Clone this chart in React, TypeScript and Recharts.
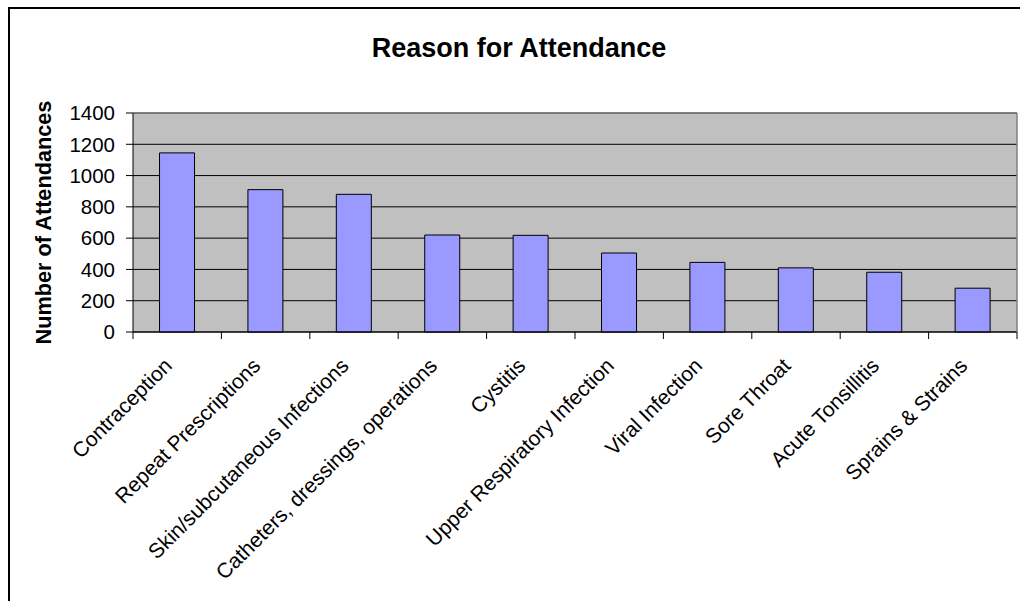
import React from 'react';
import { BarChart, Bar, XAxis, YAxis, CartesianGrid, ReferenceLine } from 'recharts';

const categories = [
  'Contraception',
  'Repeat Prescriptions',
  'Skin/subcutaneous Infections',
  'Catheters, dressings, operations',
  'Cystitis',
  'Upper Respiratory Infection',
  'Viral Infection',
  'Sore Throat',
  'Acute Tonsillitis',
  'Sprains & Strains',
];
const attendances = [1145, 910, 880, 620, 618, 505, 445, 410, 382, 280];
const yTicks = [0, 200, 400, 600, 800, 1000, 1200, 1400];
const chartTitle = 'Reason for Attendance';
const yAxisTitle = 'Number of Attendances';

const data = categories.map((name, i) => ({ name, value: attendances[i] }));

const W = 1020;
const H = 601;
const PLOT_LEFT = 133;
const PLOT_RIGHT = 1017;
const PLOT_TOP = 113;
const PLOT_BOTTOM = 332;
const FONT = '"Liberation Sans", Arial, Helvetica, sans-serif';
const BAND = (PLOT_RIGHT - PLOT_LEFT) / categories.length;

const XTick = (props: any) => {
  const { x, y, payload, index } = props;
  const last = index === categories.length - 1;
  return (
    <g>
      <line x1={x - BAND / 2} y1={y} x2={x - BAND / 2} y2={y + 7} stroke="#000" strokeWidth={1} />
      {last && <line x1={x + BAND / 2} y1={y} x2={x + BAND / 2} y2={y + 7} stroke="#000" strokeWidth={1} />}
      <g transform={`translate(${x - 4},${y + 35})`}>
        <text
          x={0}
          y={0}
          textAnchor="end"
          transform="rotate(-45)"
          fontSize={21}
          fontFamily={FONT}
          fill="#000"
        >
          {payload.value}
        </text>
      </g>
    </g>
  );
};

const YTitle = (props: any) => {
  const vb = props.viewBox || { y: PLOT_TOP, height: PLOT_BOTTOM - PLOT_TOP };
  const cy = vb.y + vb.height / 2;
  const x = 50.5;
  return (
    <text
      x={x}
      y={cy}
      transform={`rotate(-90, ${x}, ${cy})`}
      textAnchor="middle"
      fontSize={21.7}
      fontWeight="bold"
      fontFamily={FONT}
      fill="#000"
    >
      {yAxisTitle}
    </text>
  );
};

export default function App() {
  return (
    <div
      style={{
        position: 'fixed',
        left: 0,
        top: 0,
        width: W,
        height: H,
        overflow: 'hidden',
        background: '#fff',
      }}
    >
      <div
        style={{
          position: 'absolute',
          left: 8,
          top: 7,
          width: 1100,
          height: 700,
          borderLeft: '2px solid #000',
          borderTop: '2px solid #000',
          boxSizing: 'border-box',
        }}
      />
      <svg
        width={W}
        height={80}
        style={{ position: 'absolute', left: 0, top: 0 }}
      >
        <text
          x={519}
          y={57}
          textAnchor="middle"
          fontSize={27}
          fontWeight="bold"
          fontFamily={FONT}
          fill="#000"
        >
          {chartTitle}
        </text>
      </svg>
      <div style={{ position: 'absolute', left: 0, top: 0 }}>
        <BarChart
          width={W}
          height={H}
          data={data}
          margin={{ top: PLOT_TOP, right: 0, left: 0, bottom: 0 }}
          barCategoryGap="30%"
        >
          <CartesianGrid
            vertical={false}
            stroke="#000"
            strokeWidth={1}
            fill="#C0C0C0"
            fillOpacity={1}
          />
          <XAxis
            dataKey="name"
            interval={0}
            height={H - PLOT_BOTTOM}
            tickLine={false}
            tickSize={0}
            tickMargin={0}
            axisLine={{ stroke: '#000', strokeWidth: 1 }}
            tick={<XTick />}
          />
          <YAxis
            domain={[0, 1400]}
            ticks={yTicks}
            interval={0}
            width={PLOT_LEFT}
            tickSize={7}
            tickMargin={11}
            tickLine={{ stroke: '#000' }}
            axisLine={{ stroke: '#000', strokeWidth: 1 }}
            tick={{ fill: '#000', fontSize: 20.5, fontFamily: FONT }}
            label={{ content: <YTitle /> }}
          />
          <YAxis
            yAxisId="frame"
            orientation="right"
            domain={[0, 1400]}
            width={W - PLOT_RIGHT}
            tick={false}
            tickLine={false}
            axisLine={{ stroke: '#808080', strokeWidth: 1.5 }}
          />
          <ReferenceLine y={1400} stroke="#808080" strokeWidth={1.5} />
          <Bar
            dataKey="value"
            fill="#9999FF"
            stroke="#000"
            strokeWidth={1}
            isAnimationActive={false}
          />
        </BarChart>
      </div>
    </div>
  );
}
